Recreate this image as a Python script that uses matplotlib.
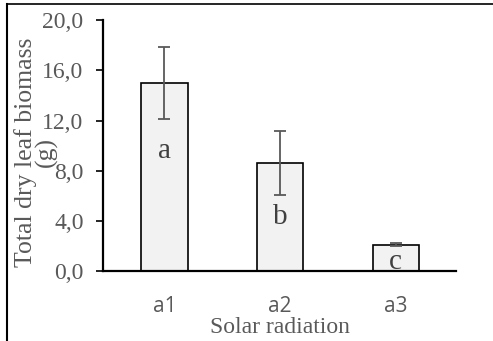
import matplotlib
matplotlib.use("Agg")
import matplotlib.pyplot as plt
from matplotlib.lines import Line2D

# 데이터
categories = ["a1", "a2", "a3"]
biomass = [15.0, 8.6, 2.1]
errors = [2.87, 2.55, 0.1]
letters = ["a", "b", "c"]
letter_y = [9.6, 4.3, 0.7]
yticks = [0, 4, 8, 12, 16, 20]

SERIF = ["Liberation Serif", "DejaVu Serif"]
GRAY = "#595959"

fig = plt.figure(figsize=(4.93, 3.41), dpi=100)
ax = fig.add_axes([0.209, 0.205, 0.716, 0.736])

x = range(len(categories))
ax.bar(x, biomass, width=0.4, color="#f2f2f2", edgecolor="black", linewidth=1.2, zorder=2)
ax.errorbar(x, biomass, yerr=errors, fmt="none", ecolor=GRAY, elinewidth=1.3,
            capsize=4.5, capthick=1.3, zorder=3)
for xi, lab, ly in zip(x, letters, letter_y):
    ax.text(xi, ly, lab, ha="center", va="center", fontsize=21, family=SERIF,
            color="#404040", zorder=4)

ax.set_xlim(-0.53, 2.52)
ax.set_ylim(0, 20)
ax.set_yticks(yticks)
ax.set_yticklabels([f"{v:.1f}".replace(".", ",") for v in yticks],
                   family=SERIF, fontsize=17, color=GRAY)
ax.set_xticks(list(x))
ax.set_xticklabels(categories, family=["Open Sans", "DejaVu Sans"], fontsize=15, color=GRAY)
ax.tick_params(axis="y", length=5, width=1.2, pad=9)
ax.tick_params(axis="x", length=0, pad=18)

for s in ["top", "right"]:
    ax.spines[s].set_visible(False)
for s in ["left", "bottom"]:
    ax.spines[s].set_linewidth(1.6)

ax.set_ylabel("Total dry leaf biomass\n(g)", family=SERIF, fontsize=18.5, color=GRAY,
              linespacing=0.85)
ax.yaxis.set_label_coords(-0.128, 0.475)
ax.set_xlabel("Solar radiation", family=SERIF, fontsize=17, color=GRAY, labelpad=0)

# 바깥 테두리
fig.add_artist(Line2D([7 / 493, 7 / 493], [0, 337 / 341], color="black", lw=1.5))
fig.add_artist(Line2D([7 / 493, 1], [337 / 341, 337 / 341], color="black", lw=1.2))

fig.savefig("out.png", dpi=100)
